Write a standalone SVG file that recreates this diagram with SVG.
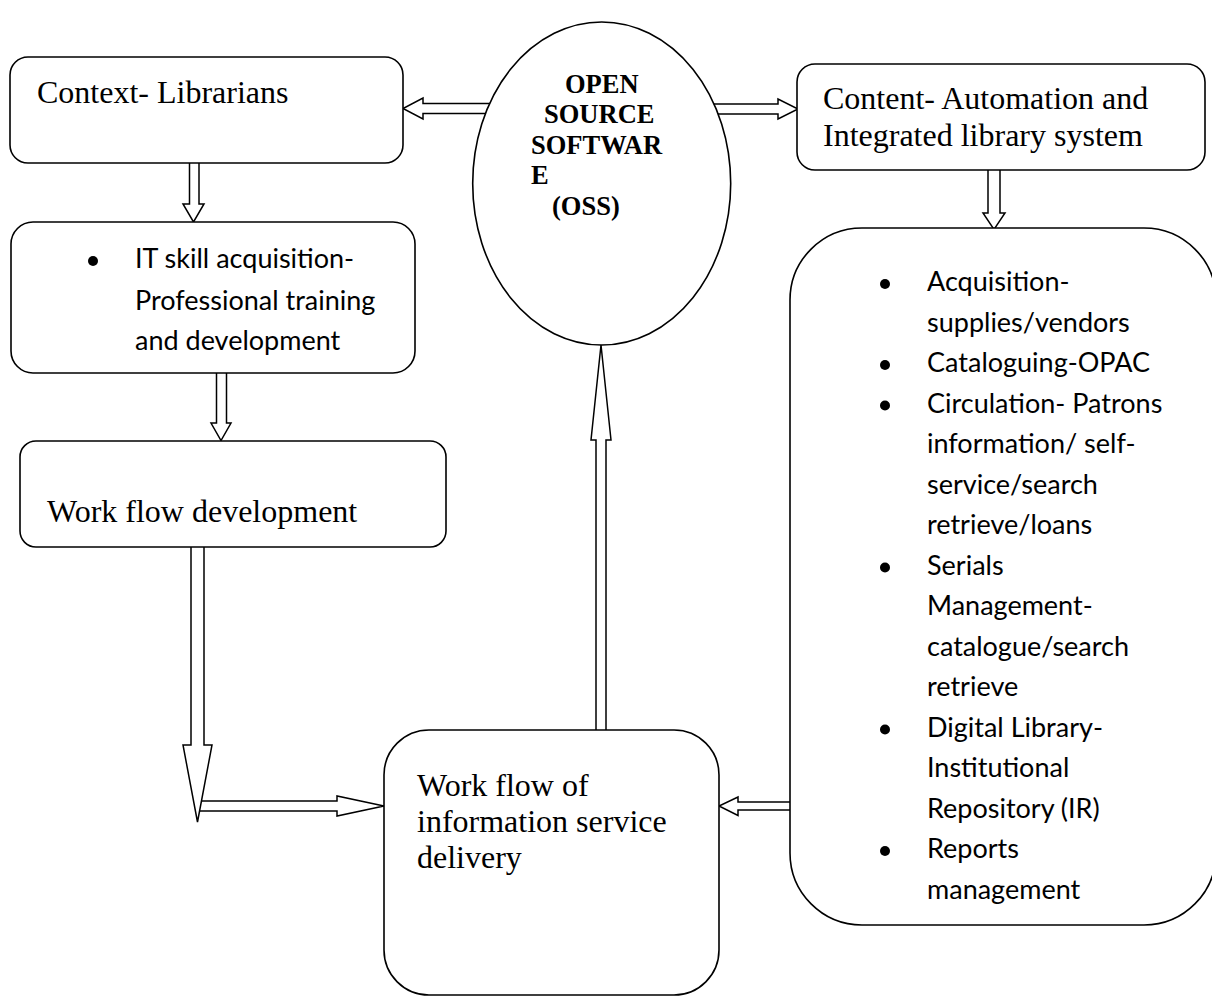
<svg xmlns="http://www.w3.org/2000/svg" width="1212" height="1002" viewBox="0 0 1212 1002">
  <style>
    .box { fill: #fff; stroke: #000; stroke-width: 1.6; }
    .arrow { fill: #fff; stroke: #000; stroke-width: 1.5; stroke-linejoin: miter; }
    .serif { font-family: "Liberation Serif", "Times New Roman", serif; font-size: 32px; fill: #000; }
    .oss { font-family: "Liberation Serif", "Times New Roman", serif; font-size: 26.5px; font-weight: bold; fill: #000; }
    .sans { font-family: Lato, "Noto Sans", sans-serif; font-size: 27px; fill: #000; }
    .dot { fill: #000; }
  </style>
  <rect width="1212" height="1002" fill="#fff"/>

  <!-- block-arrow connectors (drawn first so node fills hide their tails) -->
  <g id="connectors">
    <polygon class="arrow" points="490,103.5 423,103.5 423,98 403,108.5 423,119 423,113.5 490,113.5"/>
    <polygon class="arrow" points="712,104 778,104 778,99 798,109 778,119 778,114 712,114"/>
    <polygon class="arrow" points="189.5,158 189.5,204 183,204 193.5,222 204,204 199,204 199,158"/>
    <polygon class="arrow" points="216.5,368 216.5,423 211,423 221,440.5 231,423 226.5,423 226.5,368"/>
    <polygon class="arrow" points="988,165 988,213 983,213 994,229.5 1005,213 1000,213 1000,165"/>
    <polygon class="arrow" points="197,801 337,801 337,796 384,806 337,816 337,811 197,811"/>
    <polygon class="arrow" points="191,542 191,745 183,745 197.5,822 212,745 204,745 204,542"/>
    <polygon class="arrow" points="795,802 738,802 738,797 719,806 738,815.5 738,810 795,810"/>
    <polygon class="arrow" points="596,735 596,440 591,440 601,345 611,440 606,440 606,735"/>
  </g>

  <g id="oss">
    <ellipse class="box" cx="601.7" cy="183.5" rx="129" ry="161.5"/>
    <text class="oss" x="565" y="92.5">OPEN</text>
    <text class="oss" x="544" y="123">SOURCE</text>
    <text class="oss" x="531" y="153.5">SOFTWAR</text>
    <text class="oss" x="531" y="184">E</text>
    <text class="oss" x="552" y="214.5">(OSS)</text>
  </g>

  <g id="context">
    <rect class="box" x="10" y="57" width="393" height="106" rx="18"/>
    <text class="serif" x="37" y="103">Context- Librarians</text>
  </g>

  <g id="it-skill">
    <rect class="box" x="11" y="222" width="404" height="151" rx="22"/>
    <circle class="dot" cx="93" cy="261" r="5"/>
    <text class="sans" x="135" y="268">IT skill acquisition-</text>
    <text class="sans" x="135" y="309.5">Professional training</text>
    <text class="sans" x="135" y="350">and development</text>
  </g>

  <g id="workflow-dev">
    <rect class="box" x="20" y="441" width="426" height="106" rx="16"/>
    <text class="serif" x="47" y="522">Work flow development</text>
  </g>

  <g id="content">
    <rect class="box" x="797" y="64" width="408" height="106" rx="18"/>
    <text class="serif" x="823" y="109">Content- Automation and</text>
    <text class="serif" x="823" y="146">Integrated library system</text>
  </g>

  <g id="modules">
    <rect class="box" x="790" y="228" width="426" height="697" rx="72"/>
    <circle class="dot" cx="885" cy="284" r="5"/>
    <circle class="dot" cx="885" cy="365" r="5"/>
    <circle class="dot" cx="885" cy="405.5" r="5"/>
    <circle class="dot" cx="885" cy="567.5" r="5"/>
    <circle class="dot" cx="885" cy="729.5" r="5"/>
    <circle class="dot" cx="885" cy="851" r="5"/>
    <text class="sans" x="927" y="291">Acquisition-</text>
    <text class="sans" x="927" y="331.5">supplies/vendors</text>
    <text class="sans" x="927" y="372">Cataloguing-OPAC</text>
    <text class="sans" x="927" y="412.5">Circulation- Patrons</text>
    <text class="sans" x="927" y="453">information/ self-</text>
    <text class="sans" x="927" y="493.5">service/search</text>
    <text class="sans" x="927" y="534">retrieve/loans</text>
    <text class="sans" x="927" y="574.5">Serials</text>
    <text class="sans" x="927" y="615">Management-</text>
    <text class="sans" x="927" y="655.5">catalogue/search</text>
    <text class="sans" x="927" y="696">retrieve</text>
    <text class="sans" x="927" y="736.5">Digital Library-</text>
    <text class="sans" x="927" y="777">Institutional</text>
    <text class="sans" x="927" y="817.5">Repository (IR)</text>
    <text class="sans" x="927" y="858">Reports</text>
    <text class="sans" x="927" y="898.5">management</text>
  </g>

  <g id="service-delivery">
    <rect class="box" x="384" y="730" width="335" height="265" rx="45"/>
    <text class="serif" x="417" y="796">Work flow of</text>
    <text class="serif" x="417" y="832">information service</text>
    <text class="serif" x="417" y="868">delivery</text>
  </g>
</svg>
